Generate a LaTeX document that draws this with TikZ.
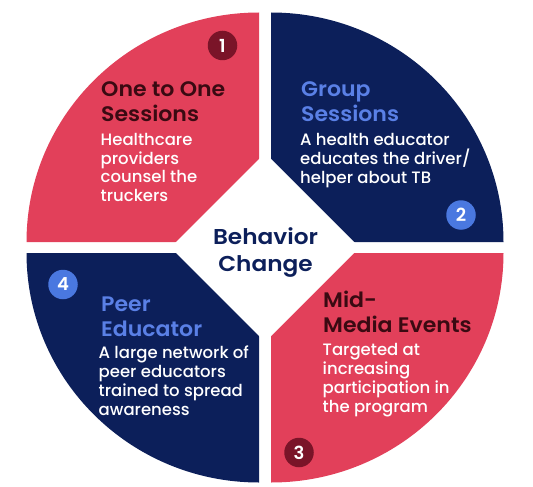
\documentclass[tikz,border=0pt]{standalone}
\usepackage{fontspec}
\setmainfont{Poppins}
\newfontfamily\titlefont{Poppins SemiBold}[FakeStretch=1.05]
\newfontfamily\centerfont{Poppins SemiBold}[FakeStretch=1.08]
\newfontfamily\bodyfont{Poppins Medium}
\newfontfamily\badgefont{Poppins SemiBold}
\definecolor{pinkq}{HTML}{E2405A}
\definecolor{navyq}{HTML}{0C1F5A}
\definecolor{ltblue}{HTML}{5A80E6}
\definecolor{maroonb}{HTML}{7A1428}
\definecolor{darkred}{HTML}{3A0A12}
\definecolor{badgeblue}{HTML}{4A78E0}
\tikzset{
  titletext/.style={anchor=base west,inner sep=0pt,align=left,font=\titlefont\fontsize{21}{25}\selectfont},
  bodytext/.style={anchor=base west,inner sep=0pt,align=left,text=white,font=\bodyfont\fontsize{16.5}{18.8}\selectfont},
  badge/.style={circle,minimum size=29.5pt,inner sep=0pt,text=white,font=\badgefont\fontsize{18}{18}\selectfont}
}
\begin{document}
\begin{tikzpicture}[x=1pt,y=-1pt]
\useasboundingbox (0,0) rectangle (533,487);
\fill[white] (0,0) rectangle (533,487);
% quadrants
\fill[pinkq]  (259,242) -- (26.5,242) arc[start angle=180,end angle=270,x radius=232.5,y radius=229.5] -- cycle;
\fill[navyq]  (271,242) -- (271,12.5) arc[start angle=270,end angle=360,x radius=232.5,y radius=229.5] -- cycle;
\fill[pinkq]  (271,253) -- (503.5,253) arc[start angle=0,end angle=90,x radius=232.5,y radius=229.5] -- cycle;
\fill[navyq]  (259,253) -- (259,482.5) arc[start angle=90,end angle=180,x radius=232.5,y radius=229.5] -- cycle;
% centre diamond
\fill[white] (170.5,247.5) -- (265,153) -- (359.5,247.5) -- (265,342) -- cycle;
\node[font=\centerfont\fontsize{21.5}{27.4}\selectfont,text=navyq,align=center,inner sep=0pt,anchor=base] (center) at (265.5,271.7) {Behavior\\Change};
% badges
\node[badge,fill=maroonb] (b1) at (222.5,45.5) {1};
\node[badge,fill=badgeblue] (b2) at (461,215) {2};
\node[badge,fill=maroonb] (b3) at (299,452.5) {3};
\node[badge,fill=badgeblue] (b4) at (63,284.5) {4};
% titles (anchored at the baseline of the last line)
\node[titletext,text=darkred] (t1) at (101,121.7) {One to One\\Sessions};
\node[titletext,text=ltblue] (t2) at (301,121.7) {Group\\Sessions};
\node[titletext,text=darkred] (t3) at (323,332.3) {Mid-\\Media Events};
\node[titletext,text=ltblue] (t4) at (101,336) {Peer\\Educator};
% bodies
\node[bodytext] (d1) at (100.5,201.7) {Healthcare\\providers\\counsel the\\truckers};
\node[bodytext] (d2) at (300,183.3) {A health educator\\educates the driver/\\helper about TB};
\node[bodytext] (d3) at (322.5,412.3) {Targeted at\\increasing\\participation in\\the program};
\node[bodytext] (d4) at (98.5,415) {A large network of\\peer educators\\trained to spread\\awareness};
\end{tikzpicture}
\end{document}
